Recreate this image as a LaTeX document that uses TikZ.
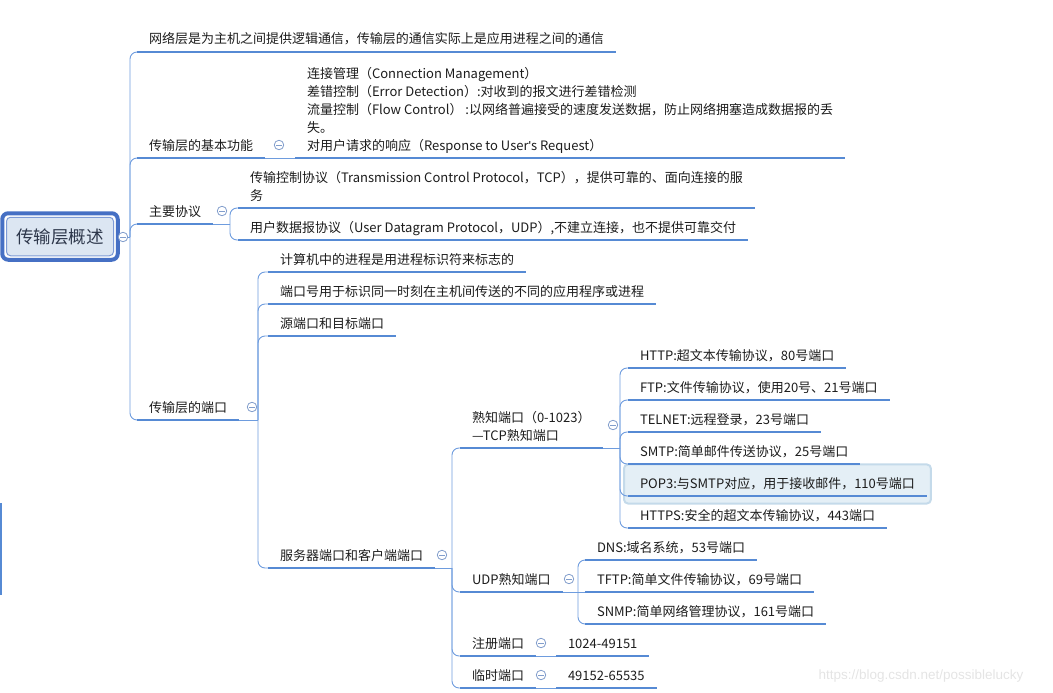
\documentclass[tikz,border=0pt]{standalone}
\usepackage{fontspec}
\setmainfont{Noto Sans CJK SC}
\newfontfamily\wmfont{Liberation Sans}
\usetikzlibrary{positioning,fit,backgrounds}
\definecolor{lineblue}{RGB}{86,138,212}
\definecolor{linkblue}{RGB}{110,156,222}
\definecolor{foldgray}{RGB}{130,158,204}
\definecolor{rootblue}{RGB}{70,112,196}
\definecolor{rootfill}{RGB}{220,230,242}
\definecolor{selfill}{RGB}{228,239,246}
\definecolor{seledge}{RGB}{196,218,234}
\definecolor{txt}{RGB}{28,28,28}

\tikzset{
  topic/.style={anchor=south west, inner xsep=12pt, inner ysep=5pt, text depth=3pt,
    outer sep=0pt, align=left, text=txt, font=\fontsize{13pt}{18pt}\selectfont},
  uline/.style={lineblue, line width=2.6pt},
  link/.style={linkblue, line width=0.9pt, rounded corners=7pt},
  fold/.style={circle, draw=foldgray, fill=white, line width=0.8pt, minimum size=9.5pt, inner sep=0pt,
    path picture={\draw[foldgray, line width=0.8pt] ([xshift=2.2pt]path picture bounding box.west)
      -- ([xshift=-2.2pt]path picture bounding box.east);}},
  rootframe/.style={rectangle, rounded corners=6pt, draw=rootblue, line width=4pt, fill=white,
    minimum width=115.5pt, minimum height=46.5pt},
  roottext/.style={rectangle, rounded corners=4pt, draw=rootblue!70, line width=1pt, fill=rootfill,
    minimum width=107pt, minimum height=38.5pt, text={rgb,255:red,45;green,55;blue,75},
    font=\fontsize{17.5pt}{20pt}\selectfont},
  selbox/.style={rectangle, rounded corners=4pt, draw=seledge, line width=2pt, fill=selfill,
    inner xsep=4pt, inner ysep=7.5pt},
  wmark/.style={text={rgb,255:red,228;green,228;blue,228}, font=\wmfont\fontsize{13.5pt}{16pt}\selectfont}
}

\begin{document}
\begin{tikzpicture}[x=1pt, y=-1pt]
  \useasboundingbox (0,0) rectangle (1053,693);
  % Root
  \node[rootframe] (rootf) at (60,236.5) {};
  \node[roottext] (root) at (rootf) {传输层概述};
  \node[fold] (f0) at (123,237) {};
  \coordinate (j0) at (130,237);
  \draw[lineblue, line width=1.5pt] (1,503) -- (1,595);

  % Level 1
  \node[topic] (t1) at (137,52) {网络层是为主机之间提供逻辑通信，传输层的通信实际上是应用进程之间的通信};
  \node[topic] (t2) at (137,158) {传输层的基本功能};
  \node[topic] (t3) at (137,224) {主要协议};
  \node[topic] (t4) at (137,420) {传输层的端口};
  \draw[link] (f0.east) -- (j0);
  \foreach \t in {t1,t2,t3,t4}
    \draw[link] (j0) |- (\t.south west);

  % Basic functions
  \node[fold] (f2) at (279,145) {};
  \node[topic] (t2a) at (295,158) {连接管理（Connection Management）\\
    差错控制（Error Detection）:对收到的报文进行差错检测\\
    流量控制（Flow Control） :以网络普遍接受的速度发送数据，防止网络拥塞造成数据报的丢\\
    失。\\
    对用户请求的响应（Response to User{\wmfont '}s Request）};
  \draw[link] (t2.south east) -- (t2a.south west);

  % Main protocols
  \node[fold] (f3) at (222,211) {};
  \coordinate (j3) at (230,224);
  \node[topic] (c1) at (238,208) {传输控制协议（Transmission Control Protocol，TCP），提供可靠的、面向连接的服\\务};
  \node[topic] (c2) at (238,240) {用户数据报协议（User Datagram Protocol，UDP）,不建立连接，也不提供可靠交付};
  \draw[link] (t3.south east) -- (j3);
  \foreach \c in {c1,c2}
    \draw[link] (j3) |- (\c.south west);

  % Ports
  \node[fold] (f4) at (252,407) {};
  \coordinate (j4) at (258,420);
  \node[topic] (p1) at (268,272) {计算机中的进程是用进程标识符来标志的};
  \node[topic] (p2) at (268,304) {端口号用于标识同一时刻在主机间传送的不同的应用程序或进程};
  \node[topic] (p3) at (268,336) {源端口和目标端口};
  \node[topic] (p4) at (268,568) {服务器端口和客户端端口};
  \draw[link] (t4.south east) -- (j4);
  \foreach \p in {p1,p2,p3,p4}
    \draw[link] (j4) |- (\p.south west);

  % Server and client ports
  \node[fold] (f5) at (442,555) {};
  \coordinate (j5) at (452,568);
  \node[topic] (s1) at (460,448) {熟知端口（0-1023）\\—TCP熟知端口};
  \node[topic] (s2) at (460,592) {UDP熟知端口};
  \node[topic] (s3) at (460,656) {注册端口};
  \node[topic] (s4) at (460,688) {临时端口};
  \draw[link] (p4.south east) -- (j5);
  \foreach \s in {s1,s2,s3,s4}
    \draw[link] (j5) |- (\s.south west);

  % TCP well-known ports
  \node[fold] (f6) at (613,425) {};
  \coordinate (j6) at (620,448);
  \node[topic] (h1) at (628,368) {HTTP:超文本传输协议，80号端口};
  \node[topic] (h2) at (628,400) {FTP:文件传输协议，使用20号、21号端口};
  \node[topic] (h3) at (628,432) {TELNET:远程登录，23号端口};
  \node[topic] (h4) at (628,464) {SMTP:简单邮件传送协议，25号端口};
  \node[topic] (h5) at (628,496) {POP3:与SMTP对应，用于接收邮件，110号端口};
  \node[topic] (h6) at (628,528) {HTTPS:安全的超文本传输协议，443端口};
  \begin{scope}[on background layer]
    \node[selbox, fit=(h5)] (sel) {};
  \end{scope}
  \draw[link] (s1.south east) -- (j6);
  \foreach \h in {h1,h2,h3,h4,h5,h6}
    \draw[link] (j6) |- (\h.south west);

  % UDP well-known ports
  \node[fold] (f7) at (569,579) {};
  \coordinate (j7) at (578,592);
  \node[topic] (d1) at (585,560) {DNS:域名系统，53号端口};
  \node[topic] (d2) at (585,592) {TFTP:简单文件传输协议，69号端口};
  \node[topic] (d3) at (585,624) {SNMP:简单网络管理协议，161号端口};
  \draw[link] (s2.south east) -- (j7);
  \draw[link] (j7) |- (d1.south west);
  \draw[link] (j7) -- (d2.south west);
  \draw[link] (j7) |- (d3.south west);

  % Registered and ephemeral ports
  \node[fold] (f8) at (541,643) {};
  \node[fold] (f9) at (541,675) {};
  \node[topic] (r1) at (556,656) {1024-49151};
  \node[topic] (r2) at (556,688) {49152-65535};
  \draw[link] (s3.south east) -- (r1.south west);
  \draw[link] (s4.south east) -- (r2.south west);

  % Underlines
  \foreach \n in {t1,t2,t3,t4,t2a,c1,c2,p1,p2,p3,p4,s1,s2,s3,s4,h1,h2,h3,h4,h5,h6,d1,d2,d3,r1,r2}
    \draw[uline] (\n.south west) -- (\n.south east);

  \node[wmark] (wm) at (921,676) {https://blog.csdn.net/possiblelucky};
\end{tikzpicture}
\end{document}
